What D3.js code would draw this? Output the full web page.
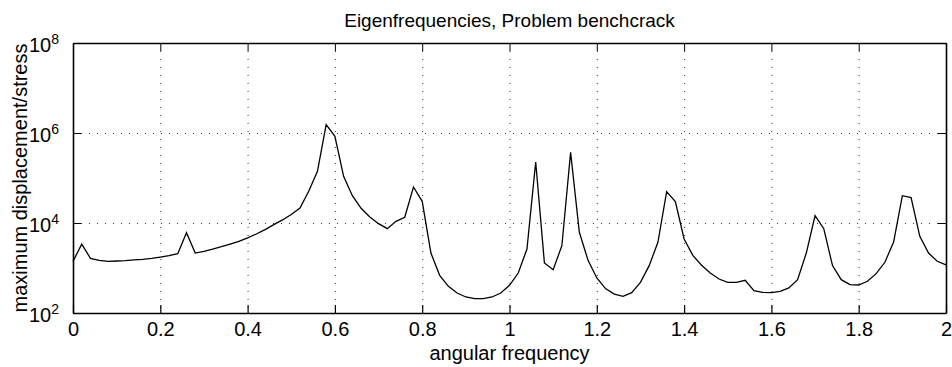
<!DOCTYPE html>
<html>
<head>
<meta charset="utf-8">
<script src="https://cdn.jsdelivr.net/npm/d3@7"></script>
<style>
  body { margin: 0; background: #fff; }
  svg { display: block; font-family: "Liberation Sans", Arial, Helvetica, sans-serif; }
  .grid line { stroke: #000; stroke-width: 0.8; stroke-dasharray: 1 7; }
  .axis path, .axis line { stroke: #000; }
  .axis text { font-size: 20px; fill: #000; }
</style>
</head>
<body>
<div id="chart"></div>
<script>
const frequencies = [
  0.00, 0.02, 0.04, 0.06, 0.08, 0.10, 0.12, 0.14, 0.16, 0.18,
  0.20, 0.22, 0.24, 0.26, 0.28, 0.30, 0.32, 0.34, 0.36, 0.38,
  0.40, 0.42, 0.44, 0.46, 0.48, 0.50, 0.52, 0.54, 0.56, 0.58,
  0.60, 0.62, 0.64, 0.66, 0.68, 0.70, 0.72, 0.74, 0.76, 0.78,
  0.80, 0.82, 0.84, 0.86, 0.88, 0.90, 0.92, 0.94, 0.96, 0.98,
  1.00, 1.02, 1.04, 1.06, 1.08, 1.10, 1.12, 1.14, 1.16, 1.18,
  1.20, 1.22, 1.24, 1.26, 1.28, 1.30, 1.32, 1.34, 1.36, 1.38,
  1.40, 1.42, 1.44, 1.46, 1.48, 1.50, 1.52, 1.54, 1.56, 1.58,
  1.60, 1.62, 1.64, 1.66, 1.68, 1.70, 1.72, 1.74, 1.76, 1.78,
  1.80, 1.82, 1.84, 1.86, 1.88, 1.90, 1.92, 1.94, 1.96, 1.98,
  2.00
];

const maxResponse = [
  1400, 3400, 1640, 1480, 1410, 1430, 1460, 1510, 1560, 1640,
  1750, 1880, 2080, 6100, 2150, 2340, 2640, 2980, 3410, 3920,
  4650, 5700, 7110, 9180, 11700, 15500, 21400, 50600, 141000, 1530000,
  843000, 109000, 40500, 21200, 13600, 9660, 7480, 10900, 13400, 63100,
  30300, 2150, 687, 392, 278, 227, 208, 208, 227, 278,
  412, 774, 2640, 227000, 1290, 918, 3130, 372000, 6210, 1480,
  600, 348, 264, 234, 283, 480, 1130, 3720, 49700, 29800,
  4410, 1910, 1150, 774, 570, 480, 480, 532, 313, 288,
  283, 303, 360, 551, 2150, 14600, 7480, 1130, 551, 427,
  419, 506, 748, 1340, 3780, 40500, 36600, 5060, 2150, 1410,
  1170
];

const xTicks = [0, 0.2, 0.4, 0.6, 0.8, 1, 1.2, 1.4, 1.6, 1.8, 2];
const xTickLabels = ['0', '0.2', '0.4', '0.6', '0.8', '1', '1.2', '1.4', '1.6', '1.8', '2'];
const yTicks = [1e2, 1e4, 1e6, 1e8];
const yTickExponents = ['2', '4', '6', '8'];

const title = 'Eigenfrequencies, Problem benchcrack';
const xLabel = 'angular frequency';
const yLabel = 'maximum displacement/stress';

const width = 952;
const height = 367;
const margin = { top: 43, right: 6, bottom: 54, left: 73 };
const innerW = width - margin.left - margin.right;
const innerH = height - margin.top - margin.bottom;

const svg = d3.select('#chart')
  .append('svg')
  .attr('width', width)
  .attr('height', height)
  .attr('viewBox', `0 0 ${width} ${height}`);

const g = svg.append('g')
  .attr('transform', `translate(${margin.left}, ${margin.top})`);

const x = d3.scaleLinear().domain([0, 2]).range([0, innerW]);
const y = d3.scaleLog().domain([1e2, 1e8]).range([innerH, 0]);

// dotted grid, skipping the box edges
g.append('g')
  .attr('class', 'grid')
  .selectAll('line')
  .data(xTicks.slice(1, -1))
  .join('line')
  .attr('x1', d => x(d) + 0.5)
  .attr('x2', d => x(d) + 0.5)
  .attr('y1', 0)
  .attr('y2', innerH);

g.append('g')
  .attr('class', 'grid')
  .selectAll('line')
  .data(yTicks.slice(1, -1))
  .join('line')
  .attr('x1', 0)
  .attr('x2', innerW)
  .attr('y1', d => y(d) + 0.5)
  .attr('y2', d => y(d) + 0.5);

// axes (ticks inward like matlab)
const xAxisG = g.append('g')
  .attr('class', 'axis x-axis')
  .attr('transform', `translate(0, ${innerH})`)
  .call(d3.axisBottom(x)
    .tickValues(xTicks)
    .tickFormat((d, i) => xTickLabels[i])
    .tickSizeInner(-8)
    .tickSizeOuter(0)
    .tickPadding(9));
xAxisG.select('.domain').attr('stroke-width', 1.6);
xAxisG.selectAll('.tick line').attr('stroke-width', 1.2);

g.append('g')
  .attr('class', 'axis x-axis-top')
  .call(d3.axisTop(x)
    .tickValues(xTicks)
    .tickFormat('')
    .tickSizeInner(-8)
    .tickSizeOuter(0))
  .call(a => a.select('.domain').attr('stroke-width', 1.6));

const yAxisG = g.append('g')
  .attr('class', 'axis y-axis')
  .call(d3.axisLeft(y)
    .tickValues(yTicks)
    .tickFormat('')
    .tickSizeInner(-8)
    .tickSizeOuter(0)
    .tickPadding(14));
yAxisG.select('.domain').attr('stroke-width', 1.6);

yAxisG.selectAll('.tick text')
  .attr('dy', '0.42em')
  .each(function (d, i) {
    const t = d3.select(this);
    t.text('10');
    t.append('tspan')
      .attr('dy', '-0.55em')
      .attr('font-size', '14px')
      .text(yTickExponents[i]);
  });

g.append('g')
  .attr('class', 'axis y-axis-right')
  .attr('transform', `translate(${innerW}, 0)`)
  .call(d3.axisRight(y)
    .tickValues(yTicks)
    .tickFormat('')
    .tickSizeInner(-8)
    .tickSizeOuter(0))
  .call(a => a.select('.domain').attr('stroke-width', 1.6));

// response curve
const line = d3.line()
  .x((d, i) => x(frequencies[i]))
  .y(d => y(d));

g.append('path')
  .datum(maxResponse)
  .attr('fill', 'none')
  .attr('stroke', '#000')
  .attr('stroke-width', 1.3)
  .attr('stroke-linejoin', 'miter')
  .attr('d', line);

// labels
svg.append('text')
  .attr('x', margin.left + innerW / 2)
  .attr('y', 27)
  .attr('text-anchor', 'middle')
  .attr('font-size', 19)
  .text(title);

svg.append('text')
  .attr('x', margin.left + innerW / 2)
  .attr('y', 360)
  .attr('text-anchor', 'middle')
  .attr('font-size', 20)
  .text(xLabel);

svg.append('text')
  .attr('transform', `translate(27, ${margin.top + innerH / 2}) rotate(-90)`)
  .attr('text-anchor', 'middle')
  .attr('font-size', 20)
  .text(yLabel);
</script>
</body>
</html>
